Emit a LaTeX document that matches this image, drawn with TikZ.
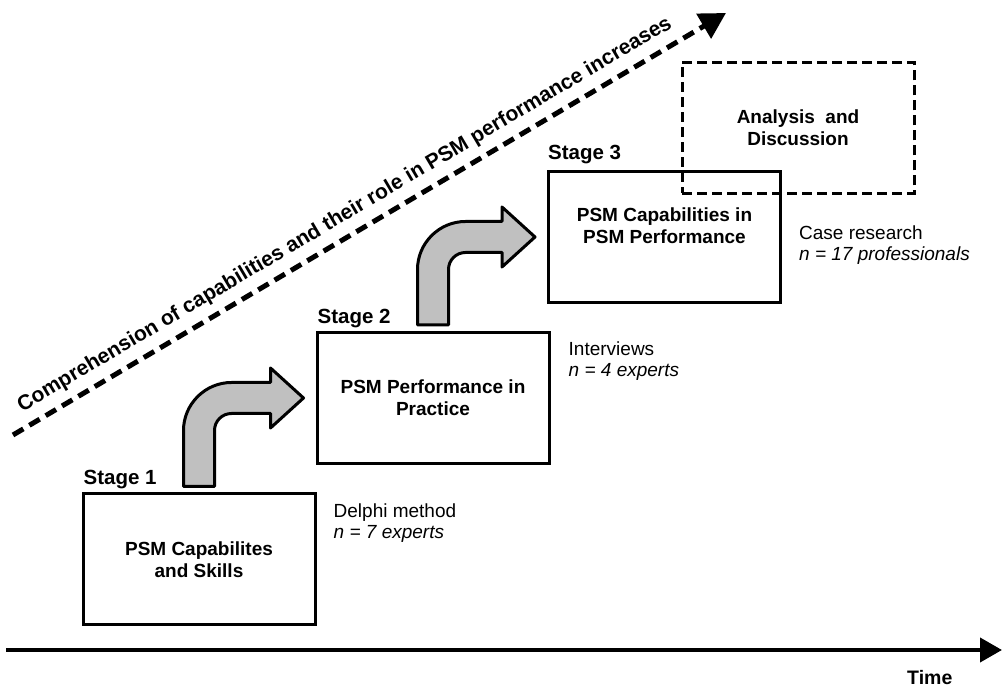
\documentclass[tikz,border=0pt]{standalone}
\usepackage{fontspec}
\setmainfont{Liberation Sans}
\usetikzlibrary{arrows.meta,calc}

\definecolor{arrowgray}{RGB}{192,192,192}

% Bent "step up" arrow: stem rises from #2, turns right and points at #3
\newcommand\psmBentArrow[3]{%
  \path[bentarrow] let \p1=(#2), \p2=(#3) in
    (\x1-15.5,\y1) -- (\x1-15.5,\y2+15.5-48)
    .. controls (\x1-15.5,\y2+15.5-21.6) and (\x1-15.5+21.6,\y2+15.5) .. (\x1-15.5+48,\y2+15.5)
    -- (\x2-33,\y2+15.5) -- (\x2-33,\y2+30) -- (\x2,\y2) -- (\x2-33,\y2-30) -- (\x2-33,\y2-15.5)
    -- (\x1+15.5+17,\y2-15.5)
    .. controls (\x1+15.5+7.6,\y2-15.5) and (\x1+15.5,\y2-15.5-7.6) .. (\x1+15.5,\y2-15.5-17)
    -- (\x1+15.5,\y1) -- cycle;}

\begin{document}
\begin{tikzpicture}[x=1pt,y=1pt,
  stagebox/.style={draw=black, line width=3pt, minimum width=232pt, minimum height=131pt,
    inner sep=0pt, align=center, font=\fontsize{19}{22}\selectfont\bfseries},
  discbox/.style={stagebox, dash pattern=on 10pt off 5pt},
  boxtext/.style={inner sep=0pt, align=center, font=\fontsize{19}{22}\selectfont\bfseries},
  stagelabel/.style={inner sep=0pt, anchor=base west, font=\fontsize{20.5}{24}\selectfont\bfseries},
  method/.style={inner sep=0pt, anchor=north west, align=left, font=\fontsize{19}{21}\selectfont},
  bentarrow/.style={draw=black, fill=arrowgray, line width=3pt, line join=round},
  timeaxis/.style={line width=4pt, -{Triangle[length=22pt,width=24pt]}},
  trend/.style={line width=5pt, dash pattern=on 12pt off 7pt, -{Triangle[length=26pt,width=28pt]}},
  trendlabel/.style={inner sep=0pt, font=\fontsize{21}{25}\selectfont\bfseries},
  timelabel/.style={inner sep=0pt, anchor=base west, font=\fontsize{19.5}{23}\selectfont\bfseries}]
\useasboundingbox (0,0) rectangle (1007,690);

% Stages
\node[stagebox] (s1) at (199,130.5) {PSM Capabilites\\and Skills};
\node[stagebox] (s2) at (433,292) {PSM Performance in\\Practice};
\node[stagebox] (s3) at (664.5,453) {};
\node[boxtext] (s3txt) at ($(s3.center)+(0,11)$) {PSM Capabilities in\\PSM Performance};
\node[discbox] (ad) at (798,562) {Analysis\ \ and\\Discussion};

\node[stagelabel] (l1) at ($(s1.north west)+(2,8)$) {Stage 1};
\node[stagelabel] (l2) at ($(s2.north west)+(2,7)$) {Stage 2};
\node[stagelabel] (l3) at ($(s3.north west)+(1,10)$) {Stage 3};

% Research methods
\node[method] (m1) at ($(s1.north east)+(17,-11)$) {Delphi method\\\textit{n = 7 experts}};
\node[method] (m2) at ($(s2.north east)+(18,-11)$) {Interviews\\\textit{n = 4 experts}};
\node[method] (m3) at ($(s3.north east)+(17,-56)$) {Case research\\\textit{n = 17 professionals}};

% Transitions between stages
\psmBentArrow{a1}{$(s1.north)+(0,6)$}{$(s2.west)+(-12,0)$}
\psmBentArrow{a2}{$(s2.north)+(0,6)$}{$(s3.west)+(-12,0)$}

% Growing comprehension
\coordinate (c0) at (13,255);
\coordinate (c1) at (726,677);
\draw[trend] (c0) -- node[trendlabel, pos=0.48, above=8pt, sloped] (tl)
  {Comprehension of capabilities and their role in PSM performance increases} (c1);

% Time axis
\coordinate (t0) at (6,40);
\coordinate (t1) at (1002,40);
\draw[timeaxis] (t0) -- (t1);
\node[timelabel] (time) at (907,5) {Time};
\end{tikzpicture}
\end{document}
